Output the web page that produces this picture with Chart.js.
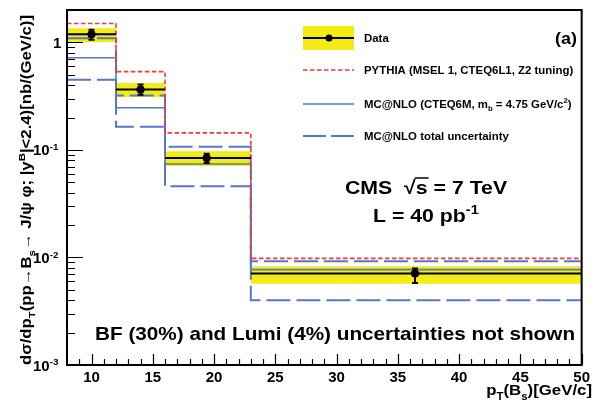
<!DOCTYPE html>
<html>
<head>
<meta charset="utf-8">
<script src="https://cdn.jsdelivr.net/npm/chart.js@4"></script>
<style>
  html, body { margin: 0; padding: 0; background: #fff; }
  canvas { display: block; }
</style>
</head>
<body>
<canvas id="c" width="594" height="405"></canvas>
<script>
// Bin edges in pT(Bs) [GeV/c]
const binEdges = [8, 12, 16, 23, 50];
// Measured points: abscissa, value and stat error range per bin
const dataX   = [10.0, 14.0, 19.4, 36.4];
const dataVal = [1.19, 0.364, 0.084, 0.0071];
const statHi  = [1.31, 0.405, 0.092, 0.0079];
const statLo  = [1.06, 0.326, 0.0756, 0.0058];
// Total uncertainty band on the data
const bandHi  = [1.35, 0.42, 0.097, 0.0083];
const bandLo  = [1.00, 0.31, 0.071, 0.0057];
// Predictions
const pythia  = [1.50, 0.535, 0.144, 0.0098];
const mcnlo   = [0.72, 0.247, 0.074, 0.0077];
const mcnloHi = [1.09, 0.32, 0.107, 0.0092];
const mcnloLo = [0.45, 0.164, 0.046, 0.0040];
// Axis ticks
const xTicks = [10, 15, 20, 25, 30, 35, 40, 45, 50];
const yTickExps = [0, -1, -2, -3];

const FONT = '"Liberation Sans", Arial, Helvetica, sans-serif';
const YELLOW = '#f2ec14';
const BLUE = '#5a76c4';
const RED = '#ee3b3b';
const SX = 1.12; // horizontal widening of the annotation lettering

// Step-histogram outline: each value holds across its bin
function stepPoints(vals) {
  const pts = vals.map((v, i) => ({ x: binEdges[i], y: v }));
  pts.push({ x: binEdges[binEdges.length - 1], y: vals[vals.length - 1] });
  return pts;
}
// Separate horizontal segments per bin (no vertical joins)
function segPoints(vals) {
  const pts = [];
  vals.forEach((v, i) => {
    pts.push({ x: binEdges[i], y: v });
    pts.push({ x: binEdges[i + 1], y: v });
    pts.push({ x: binEdges[i + 1], y: null });
  });
  return pts;
}

// Text runs with sub/superscripts
function richWidth(ctx, parts, size) {
  let w = 0;
  for (const p of parts) {
    const s = p.s ? size * (p.k || 0.68) : size;
    ctx.font = `bold ${s}px ${FONT}`;
    w += ctx.measureText(p.t).width + (p.gap || 0);
  }
  return w;
}
function drawRich(ctx, parts, x, y, size, sx) {
  sx = sx || 1;
  ctx.save();
  ctx.translate(x, y);
  ctx.scale(sx, 1);
  ctx.textBaseline = 'alphabetic';
  ctx.textAlign = 'left';
  let cx = 0;
  for (const p of parts) {
    const s = p.s ? size * (p.k || 0.68) : size;
    ctx.font = `bold ${s}px ${FONT}`;
    let dy = 0;
    if (p.s === 'sup') dy = -size * (p.up || 0.42);
    if (p.s === 'sub') dy = size * 0.3;
    ctx.fillText(p.t, cx, dy);
    cx += ctx.measureText(p.t).width + (p.gap || 0);
  }
  ctx.restore();
  return x + cx * sx;
}

const decorations = {
  id: 'decorations',
  afterDatasetsDraw(chart) {
    const ctx = chart.ctx;
    const xs = chart.scales.x, ys = chart.scales.y;
    const a = chart.chartArea;
    ctx.save();

    // stat error bars on the data points
    ctx.strokeStyle = '#000';
    ctx.lineWidth = 2;
    dataX.forEach((xv, i) => {
      const px = xs.getPixelForValue(xv);
      const top = ys.getPixelForValue(statHi[i]);
      const bot = ys.getPixelForValue(statLo[i]);
      ctx.beginPath();
      ctx.moveTo(px, top); ctx.lineTo(px, bot);
      ctx.moveTo(px - 3, top); ctx.lineTo(px + 3, top);
      ctx.moveTo(px - 3, bot); ctx.lineTo(px + 3, bot);
      ctx.stroke();
    });

    // frame
    ctx.lineWidth = 2;
    ctx.strokeStyle = '#000';
    ctx.strokeRect(a.left, a.top, a.right - a.left, a.bottom - a.top);

    // inward ticks on x axis
    ctx.lineWidth = 1.2;
    ctx.beginPath();
    for (let v = 9; v <= 50; v++) {
      const px = Math.round(xs.getPixelForValue(v)) + 0.5;
      const len = (v % 5 === 0) ? 11 : 6;
      ctx.moveTo(px, a.bottom); ctx.lineTo(px, a.bottom - len);
    }
    // inward ticks on y axis
    for (let e = -3; e <= 0; e++) {
      for (let m = 1; m <= 9; m++) {
        const v = m * Math.pow(10, e);
        if (v > ys.max) continue;
        const py = Math.round(ys.getPixelForValue(v)) + 0.5;
        const len = m === 1 ? 16 : 8;
        ctx.moveTo(a.left, py); ctx.lineTo(a.left + len, py);
      }
    }
    ctx.stroke();

    // y tick labels
    ctx.fillStyle = '#000';
    yTickExps.forEach(e => {
      const py = ys.getPixelForValue(Math.pow(10, e));
      if (e === 0) {
        drawRich(ctx, [{ t: '1' }], 53, py + 5.5, 15);
      } else {
        const parts = [{ t: '10' }, { t: '-' + (-e), s: 'sup', k: 0.66, up: 0.36 }];
        drawRich(ctx, parts, 33, py + 5.5, 15);
      }
    });

    // y axis title, fitted along the axis
    ctx.save();
    ctx.translate(31, 190);
    ctx.rotate(-Math.PI / 2);
    const yt = [
      { t: 'd\u03c3/dp' }, { t: 'T', s: 'sub' }, { t: '(pp\u2192B' }, { t: 's', s: 'sub' },
      { t: '\u2192 J/\u03c8 \u03c6; |y' }, { t: 'B', s: 'sup' }, { t: '|<2.4)[nb/(GeV/c)]' }
    ];
    const yw = richWidth(ctx, yt, 14);
    const ysx = 350 / yw;
    drawRich(ctx, yt, -175, 0, 14, ysx);
    ctx.restore();

    // x axis title
    const xt = [{ t: 'p' }, { t: 'T', s: 'sub' }, { t: '(B' }, { t: 's', s: 'sub' }, { t: ')[GeV/c]' }];
    const xw = richWidth(ctx, xt, 15) * SX;
    drawRich(ctx, xt, 592 - xw, 395, 15, SX);

    // legend
    const lx0 = 303, lx1 = 354, tx = 364;
    ctx.fillStyle = YELLOW;
    ctx.fillRect(lx0, 26, lx1 - lx0, 24);
    ctx.strokeStyle = '#000';
    ctx.lineWidth = 2;
    ctx.beginPath(); ctx.moveTo(lx0, 38); ctx.lineTo(lx1, 38); ctx.stroke();
    ctx.fillStyle = '#000';
    ctx.beginPath(); ctx.arc(329, 38, 3.5, 0, Math.PI * 2); ctx.fill();

    ctx.lineWidth = 1.5;
    ctx.strokeStyle = RED;
    ctx.setLineDash([4.5, 2.5]);
    ctx.beginPath(); ctx.moveTo(lx0, 70); ctx.lineTo(lx1, 70); ctx.stroke();
    ctx.strokeStyle = BLUE;
    ctx.setLineDash([]);
    ctx.beginPath(); ctx.moveTo(lx0, 104); ctx.lineTo(lx1, 104); ctx.stroke();
    ctx.lineWidth = 2;
    ctx.setLineDash([23, 5]);
    ctx.beginPath(); ctx.moveTo(lx0, 136); ctx.lineTo(lx1, 136); ctx.stroke();
    ctx.setLineDash([]);

    ctx.fillStyle = '#000';
    const ls = 10.2;
    drawRich(ctx, [{ t: 'Data' }], tx, 41.5, ls, SX);
    drawRich(ctx, [{ t: 'PYTHIA (MSEL 1, CTEQ6L1, Z2 tuning)' }], tx, 73.5, ls, SX);
    drawRich(ctx, [{ t: 'MC@NLO (CTEQ6M, m' }, { t: 'b', s: 'sub' }, { t: ' = 4.75 GeV/c' }, { t: '2', s: 'sup' }, { t: ')' }], tx, 107.5, ls, SX);
    drawRich(ctx, [{ t: 'MC@NLO total uncertainty' }], tx, 139.5, ls, SX);

    // panel tag
    drawRich(ctx, [{ t: '(a)' }], 555, 44, 16, SX);

    // experiment labels
    const cmsSize = 19;
    const cx = drawRich(ctx, [{ t: 'CMS  ' }], 345, 194, cmsSize, SX);
    ctx.font = `bold ${cmsSize}px ${FONT}`;
    const rw = ctx.measureText('\u221a').width * SX;
    const sw = ctx.measureText('s').width * SX;
    drawRich(ctx, [{ t: '\u221a' }], cx, 194, cmsSize, SX);
    const sx = cx + rw;
    ctx.lineWidth = 1.5;
    ctx.strokeStyle = '#000';
    ctx.beginPath(); ctx.moveTo(sx - 1, 178); ctx.lineTo(sx + sw + 1, 178); ctx.stroke();
    drawRich(ctx, [{ t: 's = 7 TeV' }], sx, 194, cmsSize, SX);

    drawRich(ctx, [{ t: 'L = 40 pb' }, { t: '-1', s: 'sup' }], 373, 222, cmsSize, SX);

    drawRich(ctx, [{ t: 'BF (30%) and Lumi (4%) uncertainties not shown' }], 95, 340, 18.5, SX);

    ctx.restore();
  }
};

new Chart(document.getElementById('c'), {
  type: 'line',
  data: {
    datasets: [
      { // upper edge of data band (no stroke)
        data: stepPoints(bandHi), stepped: 'before', borderWidth: 0,
        borderColor: 'rgba(0,0,0,0)', pointRadius: 0, fill: false, order: 10
      },
      { // lower edge, filled to the upper edge
        data: stepPoints(bandLo), stepped: 'before', borderWidth: 0,
        borderColor: 'rgba(0,0,0,0)', backgroundColor: YELLOW,
        pointRadius: 0, fill: '-1', order: 9
      },
      {
        label: 'MC@NLO total uncertainty (up)',
        data: stepPoints(mcnloHi), stepped: 'before', borderColor: BLUE,
        borderWidth: 2, borderDash: [24, 6], pointRadius: 0, fill: false, order: 6
      },
      {
        label: 'MC@NLO total uncertainty (down)',
        data: stepPoints(mcnloLo), stepped: 'before', borderColor: BLUE,
        borderWidth: 2, borderDash: [24, 6], pointRadius: 0, fill: false, order: 6
      },
      {
        label: 'MC@NLO',
        data: stepPoints(mcnlo), stepped: 'before', borderColor: BLUE,
        borderWidth: 1.6, pointRadius: 0, fill: false, order: 5
      },
      {
        label: 'PYTHIA',
        data: stepPoints(pythia), stepped: 'before', borderColor: RED,
        borderWidth: 1.6, borderDash: [4.5, 2.5], pointRadius: 0, fill: false, order: 4
      },
      {
        label: 'Data (bin)',
        data: segPoints(dataVal), borderColor: '#000', borderWidth: 2,
        pointRadius: 0, fill: false, spanGaps: false, order: 2
      },
      {
        label: 'Data',
        data: dataX.map((x, i) => ({ x, y: dataVal[i] })), showLine: false,
        pointRadius: 3.8, pointBackgroundColor: '#000', pointBorderColor: '#000',
        order: 1
      }
    ]
  },
  options: {
    responsive: false,
    animation: false,
    devicePixelRatio: 1,
    layout: { padding: { top: 10, right: 2, left: 0, bottom: 0 } },
    plugins: { legend: { display: false }, tooltip: { enabled: false } },
    scales: {
      x: {
        type: 'linear', min: 8, max: 50,
        afterBuildTicks: s => { s.ticks = xTicks.map(v => ({ value: v })); },
        afterFit: s => { s.height = 40; },
        grid: { display: false, drawTicks: false },
        border: { display: false },
        ticks: {
          color: '#000', padding: 4, maxRotation: 0, autoSkip: false,
          font: { family: FONT, size: 15, weight: 'bold' }
        }
      },
      y: {
        type: 'logarithmic', min: 0.001, max: 2,
        afterFit: s => { s.width = 67; },
        grid: { display: false, drawTicks: false },
        border: { display: false },
        ticks: { display: false }
      }
    }
  },
  plugins: [decorations]
});
</script>
</body>
</html>
